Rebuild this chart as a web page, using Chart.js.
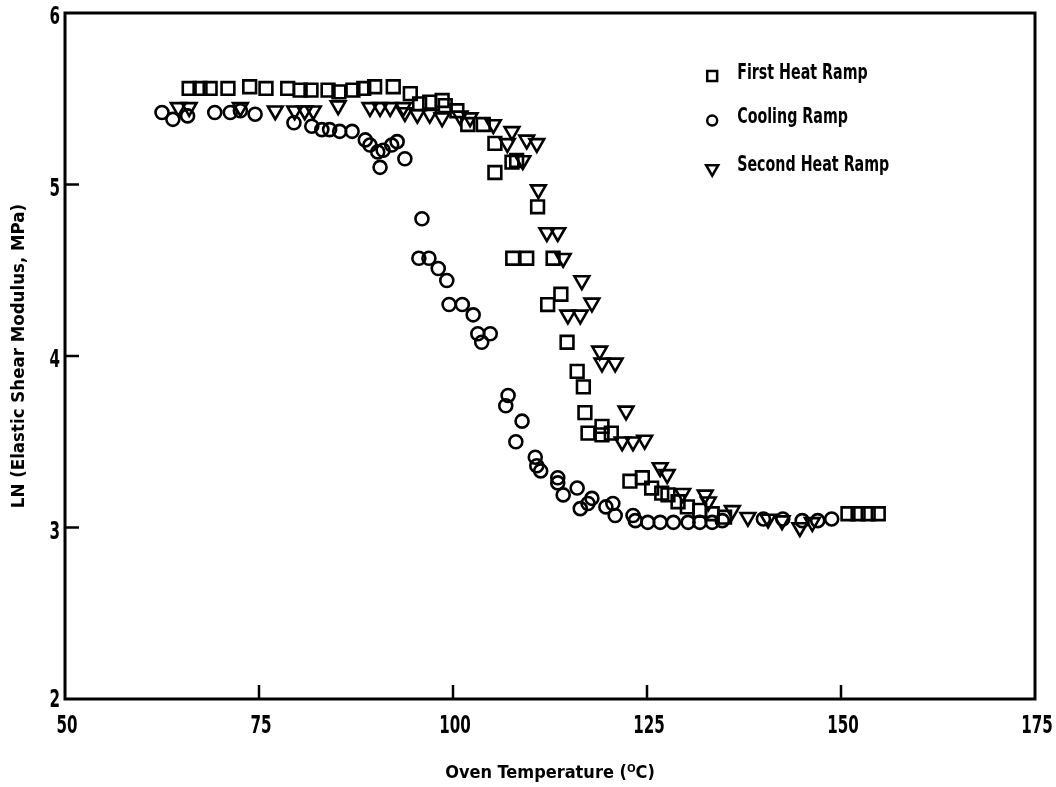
<!DOCTYPE html>
<html>
<head>
<meta charset="utf-8">
<title>Elastic Shear Modulus vs Oven Temperature</title>
<script src="https://cdn.jsdelivr.net/npm/chart.js@4/dist/chart.umd.min.js"></script>
<style>
    html, body { margin: 0; padding: 0; background: #fff; }
    #wrap { width: 1056px; height: 787px; }
</style>
</head>
<body>
<div id="wrap"><canvas id="modulusChart" width="1056" height="787"></canvas></div>
<script>
'use strict';

// Values (oven temperature in deg C, LN of modulus in MPa)
const firstHeatTemp = [66.0, 67.4, 68.7, 71.0, 73.8, 75.9, 78.7, 80.3, 81.7, 83.9, 85.3, 87.1, 88.5, 89.9, 92.3,
    94.5, 95.7, 97.0, 98.6, 99.0, 100.5, 101.9, 103.9, 105.4, 105.4, 107.6, 108.2, 110.9, 107.7, 109.5, 112.9,
    112.2, 113.9, 114.7, 116.0, 116.8, 117.0, 117.4, 119.2, 119.2, 120.4, 122.8, 124.4, 125.6, 126.9, 127.7,
    129.0, 130.2, 131.8, 133.4, 135.0, 150.9, 152.2, 153.5, 154.8];
const firstHeatLn = [5.56, 5.56, 5.56, 5.56, 5.57, 5.56, 5.56, 5.55, 5.55, 5.55, 5.54, 5.55, 5.56, 5.57, 5.57,
    5.53, 5.47, 5.48, 5.49, 5.46, 5.43, 5.35, 5.35, 5.24, 5.07, 5.13, 5.14, 4.87, 4.57, 4.57, 4.57,
    4.30, 4.36, 4.08, 3.91, 3.82, 3.67, 3.55, 3.59, 3.54, 3.55, 3.27, 3.29, 3.23, 3.20, 3.19,
    3.15, 3.12, 3.10, 3.08, 3.06, 3.08, 3.08, 3.08, 3.08];

const coolingTemp = [62.5, 63.9, 65.8, 69.3, 71.3, 72.6, 74.5, 79.5, 81.8, 83.1, 84.1, 85.4, 87.0, 88.7, 89.3,
    90.3, 90.6, 91.0, 92.1, 92.8, 93.8, 96.0, 95.6, 96.9, 98.1, 99.2, 99.5, 101.2, 102.6, 103.2, 104.8, 103.7,
    107.1, 106.8, 108.9, 108.1, 110.6, 110.8, 111.3, 113.5, 113.5, 114.2, 116.0, 116.4, 117.4, 117.9, 119.7,
    120.6, 120.9, 123.2, 123.5, 125.1, 126.7, 128.4, 130.3, 131.8, 133.4, 134.7, 140.0, 142.5, 145.0, 147.0, 148.8];
const coolingLn = [5.42, 5.38, 5.40, 5.42, 5.42, 5.43, 5.41, 5.36, 5.34, 5.32, 5.32, 5.31, 5.31, 5.26, 5.23,
    5.19, 5.10, 5.20, 5.23, 5.25, 5.15, 4.80, 4.57, 4.57, 4.51, 4.44, 4.30, 4.30, 4.24, 4.13, 4.13, 4.08,
    3.77, 3.71, 3.62, 3.50, 3.41, 3.36, 3.33, 3.29, 3.26, 3.19, 3.23, 3.11, 3.14, 3.17, 3.12,
    3.14, 3.07, 3.07, 3.04, 3.03, 3.03, 3.03, 3.03, 3.03, 3.03, 3.04, 3.05, 3.05, 3.04, 3.04, 3.05];

const secondHeatTemp = [64.6, 66.0, 72.6, 77.1, 79.6, 80.9, 82.0, 85.2, 89.3, 90.6, 91.9, 93.6, 93.8, 95.4, 97.0,
    98.6, 100.9, 102.2, 105.2, 107.6, 107.0, 109.5, 110.8, 109.0, 111.0, 112.1, 113.5, 114.2, 116.6, 117.9,
    114.8, 116.4, 118.9, 119.2, 120.9, 122.3, 121.8, 123.2, 124.7, 126.7, 127.6, 129.6, 132.5, 132.9,
    136.0, 138.0, 140.6, 142.4, 144.7, 146.3];
const secondHeatLn = [5.45, 5.45, 5.45, 5.43, 5.43, 5.43, 5.43, 5.46, 5.45, 5.45, 5.45, 5.45, 5.42, 5.41, 5.41,
    5.39, 5.40, 5.39, 5.35, 5.31, 5.24, 5.26, 5.24, 5.14, 4.97, 4.72, 4.72, 4.57, 4.44, 4.31,
    4.24, 4.24, 4.03, 3.96, 3.96, 3.68, 3.50, 3.50, 3.51, 3.35, 3.31, 3.20, 3.19, 3.15,
    3.10, 3.06, 3.05, 3.04, 3.00, 3.03];

const xTicks = [50, 75, 100, 125, 150, 175];
const yTicks = [2, 3, 4, 5, 6];

const FONT = '"DejaVu Sans Condensed", "DejaVu Sans", sans-serif';

function toPoints(xs, ys) {
    return xs.map((x, i) => ({ x: x, y: ys[i] }));
}

// the scan uses a tall, narrow face: squeeze DejaVu sideways to get close
function narrowText(ctx, text, x, y, squeeze, align) {
    ctx.save();
    ctx.translate(x, y);
    ctx.scale(squeeze, 1);
    ctx.textAlign = align || 'center';
    ctx.fillText(text, 0, 0);
    ctx.restore();
}

/**
 * Closed frame, inward tick marks and the narrow tick numbers.
 */
const framePlugin = {
    id: 'frame',
    afterDraw(chart) {
        const { ctx, chartArea: a, scales } = chart;
        ctx.save();
        ctx.strokeStyle = '#000';
        ctx.lineWidth = 3;
        ctx.strokeRect(a.left, a.top, a.right - a.left, a.bottom - a.top);
        ctx.lineWidth = 2.5;
        ctx.beginPath();
        xTicks.slice(1, -1).forEach(v => {
            const px = scales.x.getPixelForValue(v);
            ctx.moveTo(px, a.bottom);
            ctx.lineTo(px, a.bottom - 14);
        });
        yTicks.slice(1, -1).forEach(v => {
            const py = scales.y.getPixelForValue(v);
            ctx.moveTo(a.left, py);
            ctx.lineTo(a.left + 14, py);
        });
        ctx.stroke();

        ctx.fillStyle = '#000';
        ctx.font = 'bold 24px ' + FONT;
        ctx.textBaseline = 'middle';
        xTicks.forEach(v => {
            narrowText(ctx, String(v), scales.x.getPixelForValue(v) + 2, a.bottom + 28, 0.7);
        });
        yTicks.forEach(v => {
            const off = v === 2 ? 2 : 5;
            narrowText(ctx, String(v), a.left - 5, scales.y.getPixelForValue(v) + off, 0.7, 'right');
        });
        ctx.restore();
    }
};

/**
 * Legend placed inside the frame, upper right, as in the figure.
 */
const insideLegendPlugin = {
    id: 'insideLegend',
    afterDraw(chart) {
        const { ctx, scales } = chart;
        const x0 = scales.x.getPixelForValue(133.4);
        const rows = [5.65, 5.39, 5.11].map(v => scales.y.getPixelForValue(v));
        ctx.save();
        ctx.font = 'bold 22px ' + FONT;
        ctx.textBaseline = 'middle';
        chart.data.datasets.forEach((ds, i) => {
            ctx.strokeStyle = '#000';
            ctx.fillStyle = 'rgba(255,255,255,0)';
            ctx.lineWidth = 2.5;
            Chart.helpers.drawPoint(ctx, {
                pointStyle: ds.pointStyle,
                rotation: ds.rotation || 0,
                radius: ds.pointStyle === 'circle' ? 5 : 7,
                borderWidth: 2.5
            }, x0, rows[i] + 3);
            ctx.fillStyle = '#000';
            narrowText(ctx, ds.label, x0 + 25, rows[i], 0.72, 'left');
        });
        ctx.restore();
    }
};

const commonPoint = {
    showLine: false,
    backgroundColor: 'rgba(255,255,255,0)',
    borderColor: '#000',
    pointBorderWidth: 2.6,
    pointHoverRadius: 8
};

new Chart(document.getElementById('modulusChart'), {
    type: 'scatter',
    data: {
        datasets: [
            Object.assign({ label: 'First Heat Ramp', data: toPoints(firstHeatTemp, firstHeatLn), pointStyle: 'rect', pointRadius: 9 }, commonPoint),
            Object.assign({ label: 'Cooling Ramp', data: toPoints(coolingTemp, coolingLn), pointStyle: 'circle', pointRadius: 6.5 }, commonPoint),
            Object.assign({ label: 'Second Heat Ramp', data: toPoints(secondHeatTemp, secondHeatLn), pointStyle: 'triangle', rotation: 180, pointRotation: 180, pointRadius: 8.5 }, commonPoint)
        ]
    },
    options: {
        responsive: false,
        animation: false,
        layout: { padding: { top: 13, right: 21, left: 0, bottom: 0 } },
        plugins: {
            legend: { display: false },
            tooltip: { enabled: false }
        },
        scales: {
            x: {
                type: 'linear',
                min: 50,
                max: 175,
                afterBuildTicks: scale => { scale.ticks = xTicks.map(v => ({ value: v })); },
                afterFit: scale => { scale.height = 88; scale.paddingLeft = 0; scale.paddingRight = 0; },
                grid: { display: false, drawTicks: false },
                border: { display: false },
                ticks: { display: false },
                title: { display: true, text: 'Oven Temperature (\u1D3CC)', color: '#000', padding: { top: 0, bottom: 3 }, font: { family: FONT, size: 18, weight: 'bold' } }
            },
            y: {
                type: 'linear',
                min: 2,
                max: 6,
                afterBuildTicks: scale => { scale.ticks = yTicks.map(v => ({ value: v })); },
                afterFit: scale => { scale.width = 65; scale.paddingTop = 0; scale.paddingBottom = 0; },
                grid: { display: false, drawTicks: false },
                border: { display: false },
                ticks: { display: false },
                title: { display: true, text: 'LN (Elastic Shear Modulus, MPa)', color: '#000', padding: { top: 8, bottom: 4 }, font: { family: FONT, size: 18.5, weight: 'bold' } }
            }
        }
    },
    plugins: [framePlugin, insideLegendPlugin]
});
</script>
</body>
</html>
